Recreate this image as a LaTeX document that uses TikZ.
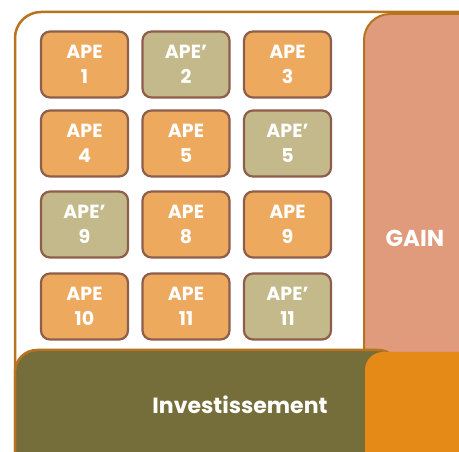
\documentclass[tikz,border=0pt]{standalone}
\usepackage{fontspec}
\setmainfont{Poppins}
\definecolor{frameC}{HTML}{B8731E}
\definecolor{apeO}{HTML}{EDA95E}
\definecolor{apeG}{HTML}{C4B98A}
\definecolor{apeB}{HTML}{8E5E4A}
\definecolor{gainC}{HTML}{E09A7C}
\definecolor{invC}{HTML}{756E3B}
\definecolor{orC}{HTML}{E68A17}
\newcommand{\prm}{\symbol{"27}}
\tikzset{
  ape/.style={draw=apeB, line width=2.2pt, rounded corners=9pt, minimum width=87pt, minimum height=66pt, inner sep=0pt, align=center, text=white, font=\fontsize{19}{25}\selectfont\bfseries},
  apeo/.style={ape, fill=apeO},
  apeg/.style={ape, fill=apeG},
  big/.style={text=white, font=\fontsize{22}{24}\selectfont\bfseries}
}
\begin{document}
\begin{tikzpicture}[x=1pt,y=-1pt]
\useasboundingbox (0,0) rectangle (459,452);
\clip (0,0) rectangle (459,452);
\draw[frameC, fill=white, line width=2.5pt, rounded corners=26pt] (15,12) rectangle (490,480);
\draw[frameC, fill=gainC, line width=2pt, rounded corners=26pt] (364,14) rectangle (490,480);
\draw[frameC, fill=invC, line width=2.5pt, rounded corners=22pt] (15,350) rectangle (400,480);
\fill[orC, rounded corners=18pt] (365,352) rectangle (490,480);
\node[big, font=\fontsize{23}{24}\selectfont\bfseries] (gain) at (415,238) {GAIN};
\node[big] (inv) at (240,405) {Investissement};
\node[apeo] (a1) at (84.5,64.5) {APE\\1};
\node[apeg] (a2) at (186,64.5) {APE\prm\\2};
\node[apeo] (a3) at (287.5,64.5) {APE\\3};
\node[apeo] (a4) at (84.5,143.5) {APE\\4};
\node[apeo] (a5) at (186,143.5) {APE\\5};
\node[apeg] (a6) at (287.5,143.5) {APE\prm\\5};
\node[apeg] (a7) at (84.5,224.5) {APE\prm\\9};
\node[apeo] (a8) at (186,224.5) {APE\\8};
\node[apeo] (a9) at (287.5,224.5) {APE\\9};
\node[apeo] (a10) at (84.5,306.5) {APE\\10};
\node[apeo] (a11) at (186,306.5) {APE\\11};
\node[apeg] (a12) at (287.5,306.5) {APE\prm\\11};
\end{tikzpicture}
\end{document}
